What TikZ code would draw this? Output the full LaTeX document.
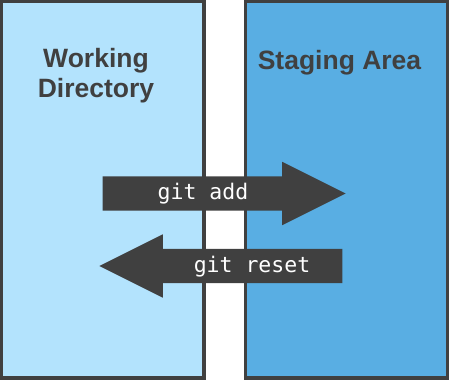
\documentclass[tikz,border=0pt]{standalone}
\usepackage{fontspec}
\setmainfont{Liberation Sans}
\setmonofont{DejaVu Sans Mono}
\usetikzlibrary{shapes.arrows, positioning}
\definecolor{linegray}{HTML}{404040}
\definecolor{workblue}{RGB}{179, 227, 253}
\definecolor{stageblue}{RGB}{89, 174, 227}

\begin{document}
\begin{tikzpicture}[x=1bp, y=-1bp,
    area/.style={draw=linegray, line width=3.5bp, inner sep=0pt, minimum height=376.5bp},
    areatitle/.style={text=linegray, align=center, font=\fontsize{26.5bp}{30bp}\selectfont\bfseries},
    cmdarrow/.style={single arrow, fill=linegray, inner xsep=0pt, inner ysep=17bp,
      minimum width=63bp, minimum height=243bp,
      single arrow head extend=14.5bp, single arrow tip angle=53.13},
    cmd/.style={text=white, font=\fontsize{21.5bp}{25bp}\selectfont\ttfamily}]
  \useasboundingbox (0,0) rectangle (449,380);

  % the two areas
  \node[area, fill=workblue, minimum width=202.5bp] (work) at (102.75,189.75) {};
  \node[area, fill=stageblue, minimum width=202bp] (stage) at (346.5,189.75) {};

  % commands moving changes across
  \node[cmdarrow, anchor=tip] (add) at (346,193.5) {};
  \node[cmdarrow, anchor=tip, shape border rotate=180] (reset) at (99,266) {};
  \node[cmd, anchor=base] (addlbl) at (203,199) {git add};
  \node[cmd, anchor=base] (resetlbl) at (252,272.5) {git reset};

  \node[areatitle] (worktitle) at (96,75.5) {Working\\Directory};
  \node[areatitle, anchor=base] (stagetitle) at (339.5,69) {Staging Area};
\end{tikzpicture}
\end{document}
